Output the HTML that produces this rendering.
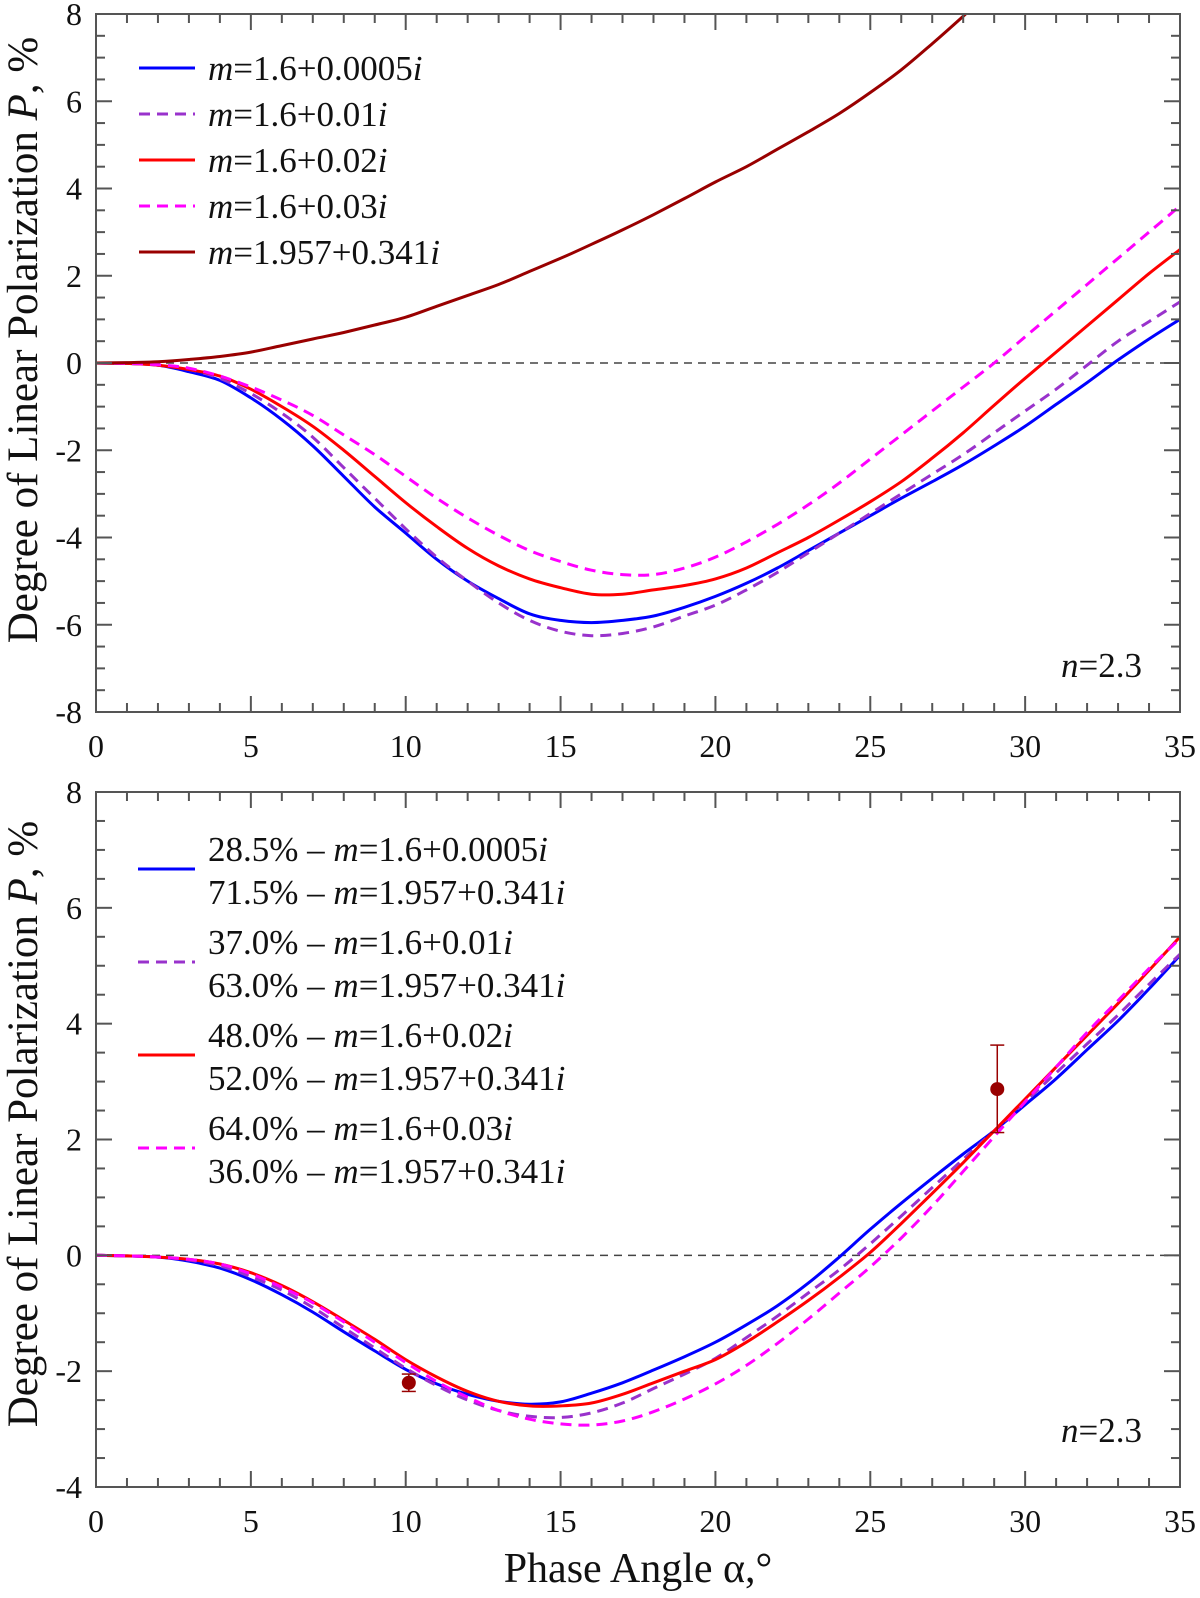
<!DOCTYPE html>
<html><head><meta charset="utf-8"><style>
body{margin:0;background:#fff}
svg{display:block}
text{font-family:"Liberation Serif","Times New Roman",serif}
</style></head><body>
<svg id="c" width="1200" height="1598" viewBox="0 0 1200 1598" font-family="Liberation Serif, serif"></svg>
<script>
const xs = [0,1,2,3,4,5,6,7,8,9,10,11,12,13,14,15,16,17,18,19,20,21,22,23,24,25,26,27,28,29,30,31,32,33,34,35];
const topBlue = [0,-0.01,-0.05,-0.2,-0.4,-0.8,-1.3,-1.9,-2.6,-3.3,-3.9,-4.5,-5.0,-5.4,-5.75,-5.9,-5.95,-5.9,-5.8,-5.6,-5.35,-5.05,-4.7,-4.3,-3.9,-3.5,-3.1,-2.72,-2.33,-1.9,-1.45,-0.95,-0.45,0.07,0.55,1.0];
const topPurple = [0,-0.01,-0.05,-0.15,-0.35,-0.7,-1.15,-1.7,-2.4,-3.1,-3.8,-4.45,-5.0,-5.5,-5.9,-6.15,-6.25,-6.2,-6.05,-5.8,-5.55,-5.2,-4.8,-4.35,-3.9,-3.45,-3.0,-2.55,-2.1,-1.6,-1.1,-0.6,-0.05,0.5,0.95,1.4];
const topRed = [0,-0.01,-0.05,-0.15,-0.3,-0.6,-1.0,-1.45,-2.0,-2.6,-3.2,-3.75,-4.25,-4.65,-4.95,-5.15,-5.3,-5.3,-5.2,-5.1,-4.95,-4.7,-4.35,-4.0,-3.6,-3.18,-2.72,-2.18,-1.6,-0.97,-0.35,0.25,0.85,1.45,2.05,2.6];
const topMagenta = [0,-0.01,-0.04,-0.12,-0.3,-0.55,-0.85,-1.2,-1.65,-2.1,-2.6,-3.1,-3.55,-3.95,-4.3,-4.55,-4.75,-4.85,-4.85,-4.7,-4.45,-4.1,-3.7,-3.25,-2.75,-2.2,-1.65,-1.1,-0.55,0.0,0.6,1.2,1.8,2.4,3.0,3.6];
const topDark = [0,0.01,0.03,0.08,0.15,0.25,0.4,0.55,0.7,0.87,1.05,1.3,1.55,1.8,2.1,2.4,2.72,3.05,3.4,3.77,4.15,4.5,4.9,5.3,5.72,6.2,6.72,7.32,7.95,8.6,9.3,10.0,10.7,11.4,12.1,12.8];
const botBlue = [0,-0.01,-0.03,-0.1,-0.22,-0.42,-0.68,-0.98,-1.32,-1.65,-1.97,-2.22,-2.4,-2.52,-2.57,-2.53,-2.38,-2.2,-1.98,-1.75,-1.5,-1.2,-0.87,-0.48,-0.03,0.45,0.9,1.33,1.75,2.15,2.6,3.05,3.55,4.05,4.6,5.18];
const botPurple = [0,-0.01,-0.03,-0.08,-0.18,-0.37,-0.6,-0.9,-1.25,-1.6,-1.95,-2.25,-2.5,-2.68,-2.78,-2.8,-2.72,-2.55,-2.3,-2.05,-1.78,-1.42,-1.05,-0.65,-0.25,0.2,0.68,1.17,1.66,2.15,2.65,3.15,3.65,4.15,4.68,5.2];
const botRed = [0,-0.01,-0.03,-0.07,-0.15,-0.3,-0.52,-0.8,-1.12,-1.45,-1.8,-2.1,-2.35,-2.52,-2.6,-2.6,-2.55,-2.4,-2.2,-2.0,-1.8,-1.5,-1.15,-0.78,-0.38,0.05,0.55,1.07,1.6,2.15,2.7,3.25,3.8,4.35,4.92,5.5];
const botMagenta = [0,-0.01,-0.03,-0.07,-0.15,-0.32,-0.55,-0.82,-1.15,-1.5,-1.85,-2.18,-2.45,-2.68,-2.83,-2.91,-2.93,-2.86,-2.7,-2.48,-2.22,-1.9,-1.52,-1.1,-0.65,-0.2,0.3,0.85,1.45,2.05,2.65,3.25,3.85,4.4,4.95,5.47];
const obsX = [10.1, 29.1];
const obsY = [-2.2, 2.87];
const obsLo = [-2.35, 2.12];
const obsHi = [-2.05, 3.63];
const xTicks = [0,5,10,15,20,25,30,35];
const topYTicks = [8,6,4,2,0,-2,-4,-6,-8];
const botYTicks = [8,6,4,2,0,-2,-4];

const NS="http://www.w3.org/2000/svg";
const FONT='"Liberation Serif", "Times New Roman", serif';
const svg=document.getElementById('c');
function el(tag,attrs,parent){const e=document.createElementNS(NS,tag);for(const k in attrs)e.setAttribute(k,attrs[k]);if(tag==='text')e.setAttribute('font-family',FONT);(parent||svg).appendChild(e);return e;}

const X0=96,X1=1180;
function xsc(v){return X0+(v/35)*(X1-X0);}

function smoothPath(pts){
  let d='M'+pts[0][0].toFixed(1)+','+pts[0][1].toFixed(1);
  for(let i=0;i<pts.length-1;i++){
    const p0=pts[Math.max(0,i-1)],p1=pts[i],p2=pts[i+1],p3=pts[Math.min(pts.length-1,i+2)];
    const c1x=p1[0]+(p2[0]-p0[0])/6,c1y=p1[1]+(p2[1]-p0[1])/6;
    const c2x=p2[0]-(p3[0]-p1[0])/6,c2y=p2[1]-(p3[1]-p1[1])/6;
    d+='C'+c1x.toFixed(1)+','+c1y.toFixed(1)+' '+c2x.toFixed(1)+','+c2y.toFixed(1)+' '+p2[0].toFixed(1)+','+p2[1].toFixed(1);
  }
  return d;
}

function panel(name,yTop,yBot,ymin,ymax,yticks,series,legendFn,nY,titleY){
  const g=el('g',{});
  
  
  const ys=v=>yBot-(v-ymin)/(ymax-ymin)*(yBot-yTop);
  const cid='clip-'+name;
  const cp=el('clipPath',{id:cid},g);el('rect',{x:X0,y:yTop,width:X1-X0,height:yBot-yTop},cp);
  const z=el('line',{x1:X0,x2:X1,y1:ys(0),y2:ys(0),stroke:'#444','stroke-width':1.5,'stroke-dasharray':'8,6'},g);
  
  
  series.forEach(s=>{
    const pts=s.vals.map((v,i)=>[xsc(xs[i]),ys(v)]);
    const p=el('path',{d:smoothPath(pts),fill:'none',stroke:s.color,'stroke-width':3,'stroke-dasharray':s.dash?'11,7':'none','clip-path':'url(#'+cid+')','stroke-linejoin':'round'},g);
    
    
  });
  const fr=el('rect',{x:X0,y:yTop,width:X1-X0,height:yBot-yTop,fill:'none',stroke:'#555','stroke-width':2},g);
  
  
  for(let v=0;v<=35;v++){
    const L=v%5===0?16:9;const x=xsc(v);
    el('line',{x1:x,x2:x,y1:yBot,y2:yBot-L,stroke:'#555','stroke-width':2},g);
    el('line',{x1:x,x2:x,y1:yTop,y2:yTop+L,stroke:'#555','stroke-width':2},g);
  }
  xTicks.forEach(v=>{
    const t=el('text',{x:xsc(v),y:yBot+45,'font-size':32,'text-anchor':'middle',fill:'#111'},g);
    t.textContent=v;
    
    
  });
  for(let v=ymin;v<=ymax+1e-9;v+=0.5){
    const L=Math.abs(v%2)<1e-9?16:9;const y=ys(v);
    el('line',{x1:X0,x2:X0+L,y1:y,y2:y,stroke:'#555','stroke-width':2},g);
    el('line',{x1:X1,x2:X1-L,y1:y,y2:y,stroke:'#555','stroke-width':2},g);
  }
  yticks.forEach(v=>{
    const t=el('text',{x:X0-14,y:ys(v)+11,'font-size':32,'text-anchor':'end',fill:'#111'},g);
    t.textContent=v;
    
    
  });
  const yt=el('text',{x:0,y:0,'font-size':43,'text-anchor':'middle',fill:'#111',transform:'translate(37,'+titleY+') rotate(-90)'},g);
  yt.innerHTML='Degree of Linear Polarization <tspan font-style="italic">P</tspan>, %';
  
  
  const nt=el('text',{x:1142,y:nY,'font-size':35,'text-anchor':'end',fill:'#111'},g);
  nt.innerHTML='<tspan font-style="italic">n</tspan>=2.3';
  
  
  legendFn(g);
  return {g:g,ys:ys};
}

const topPanel=panel('top-panel',14,712,-8,8,topYTicks,[
  {name:'series-m1.6-0.0005i',vals:topBlue,color:'#0000ff'},
  {name:'series-m1.6-0.01i',vals:topPurple,color:'#9932cc',dash:1},
  {name:'series-m1.6-0.02i',vals:topRed,color:'#ff0000'},
  {name:'series-m1.6-0.03i',vals:topMagenta,color:'#ff00ff',dash:1},
  {name:'series-m1.957-0.341i',vals:topDark,color:'#990000'}
],function(g){
  const items=[['#0000ff',0,'1.6+0.0005'],['#9932cc',1,'1.6+0.01'],['#ff0000',0,'1.6+0.02'],['#ff00ff',1,'1.6+0.03'],['#990000',0,'1.957+0.341']];
  items.forEach((it,i)=>{
    const y=68+i*46;
    const lg=el('g',{},g);
    
    
    el('line',{x1:139,x2:195,y1:y,y2:y,stroke:it[0],'stroke-width':3,'stroke-dasharray':it[1]?'11,7':'none'},lg);
    const t=el('text',{x:208,y:y+12,'font-size':35,fill:'#111'},lg);
    t.innerHTML='<tspan font-style="italic">m</tspan>='+it[2]+'<tspan font-style="italic">i</tspan>';
  });
},677,340);

const botPanel=panel('bottom-panel',792,1487,-4,8,botYTicks,[
  {name:'mix-0.0005i',vals:botBlue,color:'#0000ff'},
  {name:'mix-0.01i',vals:botPurple,color:'#9932cc',dash:1},
  {name:'mix-0.02i',vals:botRed,color:'#ff0000'},
  {name:'mix-0.03i',vals:botMagenta,color:'#ff00ff',dash:1}
],function(g){
  const items=[['#0000ff',0,'28.5%','1.6+0.0005','71.5%'],['#9932cc',1,'37.0%','1.6+0.01','63.0%'],['#ff0000',0,'48.0%','1.6+0.02','52.0%'],['#ff00ff',1,'64.0%','1.6+0.03','36.0%']];
  items.forEach((it,i)=>{
    const y0=849+i*93;
    const lg=el('g',{},g);
    
    
    el('line',{x1:138,x2:195,y1:y0+20,y2:y0+20,stroke:it[0],'stroke-width':3,'stroke-dasharray':it[1]?'11,7':'none'},lg);
    const t1=el('text',{x:208,y:y0+12,'font-size':35,fill:'#111'},lg);
    t1.innerHTML=it[2]+' – <tspan font-style="italic">m</tspan>='+it[3]+'<tspan font-style="italic">i</tspan>';
    const t2=el('text',{x:208,y:y0+55,'font-size':35,fill:'#111'},lg);
    t2.innerHTML=it[4]+' – <tspan font-style="italic">m</tspan>=1.957+0.341<tspan font-style="italic">i</tspan>';
  });
},1442,1124);

obsX.forEach((x,i)=>{
  const g=el('g',{});
  
  
  const px=xsc(x);
  el('line',{x1:px,x2:px,y1:botPanel.ys(obsLo[i]),y2:botPanel.ys(obsHi[i]),stroke:'#990000','stroke-width':1.5},g);
  el('line',{x1:px-7,x2:px+7,y1:botPanel.ys(obsLo[i]),y2:botPanel.ys(obsLo[i]),stroke:'#990000','stroke-width':1.5},g);
  el('line',{x1:px-7,x2:px+7,y1:botPanel.ys(obsHi[i]),y2:botPanel.ys(obsHi[i]),stroke:'#990000','stroke-width':1.5},g);
  el('circle',{cx:px,cy:botPanel.ys(obsY[i]),r:7,fill:'#990000'},g);
});

const xt=el('text',{x:638,y:1582,'font-size':42,'text-anchor':'middle',fill:'#111'});
xt.textContent='Phase Angle α,°';


</script>
</body></html>
